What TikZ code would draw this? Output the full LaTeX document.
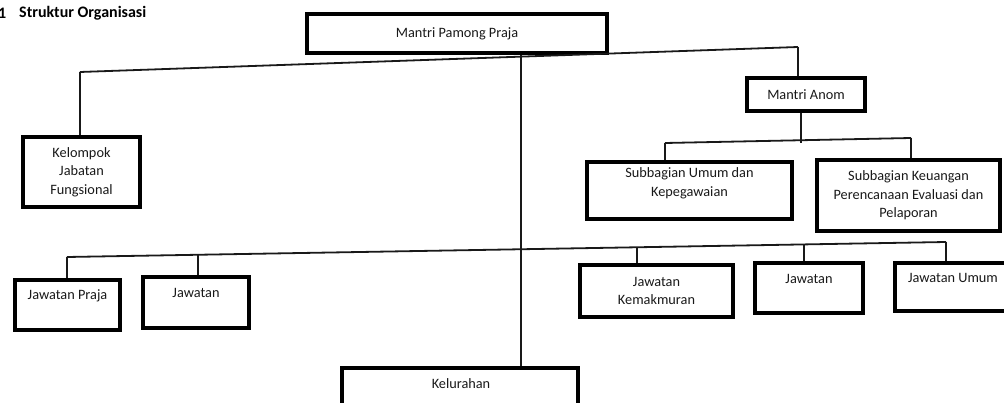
\documentclass[tikz,border=0pt]{standalone}
\usepackage{fontspec}
\setmainfont{Carlito}
\begin{document}
\begin{tikzpicture}[x=1pt,y=-1pt,
  box/.style={draw=black, line width=3.3pt, inner sep=0pt, fill=none},
  lbl/.style={font=\fontsize{14.3}{18.5}\selectfont, text=black!90, align=center, inner sep=0pt},
  conn/.style={draw=black!90, line width=1.8pt},
  ttl/.style={font=\fontsize{16}{19}\selectfont\bfseries, text=black, inner sep=0pt, anchor=west}]
\useasboundingbox (0,0) rectangle (1004,403);
% title
\node[ttl] (num) at (-2,13) {1};
\node[ttl] (title) at (19,13) {Struktur Organisasi};
% boxes
\node[box, minimum width=300pt, minimum height=39pt] (mpp) at (457,33.5) {};
\node[lbl] (mppT) at (mpp.center) {Mantri Pamong Praja};
\node[box, minimum width=117pt, minimum height=70pt] (kjf) at (81.5,172) {};
\node[lbl] (kjfT) at (kjf.center) {Kelompok\\Jabatan\\Fungsional};
\node[box, minimum width=118pt, minimum height=33pt] (ma) at (806,94.5) {};
\node[lbl] (maT) at (ma.center) {Mantri Anom};
\node[box, minimum width=205pt, minimum height=57pt] (sbu) at (689.5,190.5) {};
\node[lbl] (sbuT) at ([yshift=7pt]sbu.center) {Subbagian Umum dan\\Kepegawaian};
\node[box, minimum width=183pt, minimum height=71pt] (sbk) at (908.5,195.5) {};
\node[lbl] (sbkT) at (sbk.center) {Subbagian Keuangan\\Perencanaan Evaluasi dan\\Pelaporan};
\node[box, minimum width=105pt, minimum height=50pt] (jp) at (67.5,305) {};
\node[lbl] (jpT) at ([yshift=-17pt]jp.north) {Jawatan Praja};
\node[box, minimum width=106pt, minimum height=51pt] (jl) at (196,302.5) {};
\node[lbl] (jlT) at ([yshift=-18pt]jl.north) {Jawatan};
\node[box, minimum width=153pt, minimum height=52pt] (jk) at (656.5,291) {};
\node[lbl] (jkT) at (jk.center) {Jawatan\\Kemakmuran};
\node[box, minimum width=108pt, minimum height=50pt] (jr) at (809,288) {};
\node[lbl] (jrT) at ([yshift=-18pt]jr.north) {Jawatan};
\node[box, minimum width=120pt, minimum height=48pt] (ju) at (955,287) {};
\node[lbl] (juT) at ([xshift=-2pt,yshift=-17pt]ju.north) {Jawatan Umum};
\node[box, minimum width=236pt, minimum height=42pt] (kel) at (460,389) {};
\node[lbl] (kelT) at ([xshift=1pt,yshift=-17pt]kel.north) {Kelurahan};
% bus coordinates
\coordinate (t1) at (80,72);
\coordinate (t2) at (798,47);
\coordinate (cx) at (521,0);
\coordinate (m1) at (665,143);
\coordinate (m2) at (911,138);
\coordinate (mx) at (801,0);
\coordinate (b1) at (67,257);
\coordinate (b2) at (198,254.8);
\coordinate (b3) at (637,247.3);
\coordinate (b4) at (804,244.4);
\coordinate (b5) at (946,242);
% connectors
\draw[conn] (t1) -- (t2);
\draw[conn] (t1) -- (kjf.north -| t1);
\draw[conn] (t2) -- (ma.north -| t2);
\draw[conn] (mpp.south -| cx) -- (kel.north -| cx);
\draw[conn] (ma.south -| mx) -- (mx |- m1);
\draw[conn] (m1) -- (m2);
\draw[conn] (m1) -- (sbu.north -| m1);
\draw[conn] (m2) -- (sbk.north -| m2);
\draw[conn] (b1) -- (b5);
\draw[conn] (b1) -- (jp.north -| b1);
\draw[conn] (b2) -- (jl.north -| b2);
\draw[conn] (b3) -- (jk.north -| b3);
\draw[conn] (b4) -- (jr.north -| b4);
\draw[conn] (b5) -- (ju.north -| b5);
\end{tikzpicture}
\end{document}
